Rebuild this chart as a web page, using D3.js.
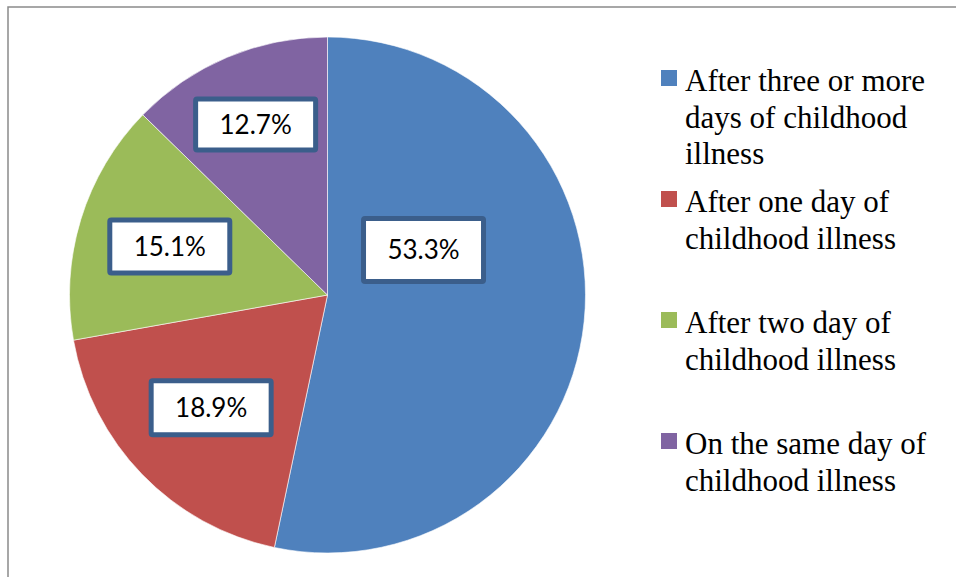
<!DOCTYPE html>
<html>
<head>
<meta charset="utf-8">
<script src="https://cdn.jsdelivr.net/npm/d3@7"></script>
<style>
  body { margin: 0; background: #fff; }
  svg { display: block; }
</style>
</head>
<body>
<svg id="chart" width="956" height="577"></svg>
<script>
// data
var categories = [
  "After three or more days of childhood illness",
  "After one day of childhood illness",
  "After two day of childhood illness",
  "On the same day of childhood illness"
];
var values = [53.3, 18.9, 15.1, 12.7];
var legendLines = [
  ["After three or more", "days of childhood", "illness"],
  ["After one day of", "childhood illness"],
  ["After two day of", "childhood illness"],
  ["On the same day of", "childhood illness"]
];
var colors = ["#4f81bd", "#c0504d", "#9bbb59", "#8064a2"];

// where excel put the labels: radius from centre and shift of the angle (degrees)
var labelRadius = [106, 162, 165, 185];
var labelShift = [-31, 0, 0, 0];
var labelHeight = [68, 59, 58, 56];

var svg = d3.select("#chart");
var width = +svg.attr("width"),
    height = +svg.attr("height");

// chart frame (only left and top visible)
svg.append("rect")
  .attr("x", 8).attr("y", 7)
  .attr("width", width).attr("height", height)
  .attr("fill", "none")
  .attr("stroke", "#8a8a8a")
  .attr("stroke-width", 1.5);

var cx = 327.5, cy = 295, radius = 258;

var pie = d3.pie().sort(null).value(function(d) { return d; });
var arc = d3.arc().innerRadius(0).outerRadius(radius);
var arcs = pie(values);

var g = svg.append("g").attr("transform", "translate(" + cx + "," + cy + ")");

g.selectAll("path.slice")
  .data(arcs)
  .enter().append("path")
  .attr("class", "slice")
  .attr("d", arc)
  .attr("fill", function(d, i) { return colors[i]; })
  .attr("stroke", "#fff")
  .attr("stroke-width", 0.6);

// data labels in boxes
var labels = g.selectAll("g.label")
  .data(arcs)
  .enter().append("g")
  .attr("class", "label")
  .attr("transform", function(d, i) {
    var a = (d.startAngle + d.endAngle) / 2 + labelShift[i] * Math.PI / 180;
    var r = labelRadius[i];
    return "translate(" + (r * Math.sin(a)) + "," + (-r * Math.cos(a)) + ")";
  });

labels.append("rect")
  .attr("x", -60)
  .attr("y", function(d, i) { return -labelHeight[i] / 2 + 2.5; })
  .attr("width", 120)
  .attr("height", function(d, i) { return labelHeight[i] - 5; })
  .attr("rx", 1.5)
  .attr("fill", "#fff")
  .attr("stroke", "#3b5e8b")
  .attr("stroke-width", 5);

labels.append("text")
  .attr("text-anchor", "middle")
  .attr("dy", "0.36em")
  .attr("font-family", "Lato, 'Open Sans', sans-serif")
  .attr("font-size", 26)
  .attr("fill", "#000")
  .text(function(d) { return d3.format(".1f")(d.data) + "%"; });

// legend
var legend = svg.append("g").attr("transform", "translate(661,0)");
var entry = legend.selectAll("g.entry")
  .data(categories)
  .enter().append("g")
  .attr("class", "entry")
  .attr("transform", function(d, i) { return "translate(0," + (91 + i * 121) + ")"; });

entry.append("rect")
  .attr("x", 0).attr("y", -21)
  .attr("width", 16).attr("height", 16)
  .attr("fill", function(d, i) { return colors[i]; });

entry.append("text")
  .attr("x", 24)
  .attr("font-family", "'Liberation Serif', 'Times New Roman', serif")
  .attr("font-size", 31)
  .attr("fill", "#000")
  .selectAll("tspan")
  .data(function(d, i) { return legendLines[i]; })
  .enter().append("tspan")
  .attr("x", 24)
  .attr("y", function(d, j) { return j * 36.5; })
  .text(function(d) { return d; });
</script>
</body>
</html>
